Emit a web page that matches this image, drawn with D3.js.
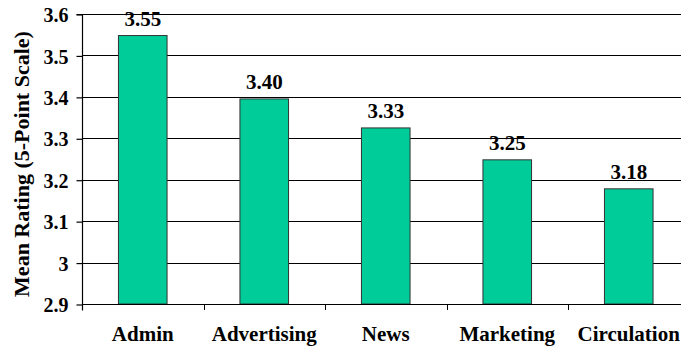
<!DOCTYPE html>
<html>
<head>
<meta charset="utf-8">
<script src="https://cdn.jsdelivr.net/npm/d3@7"></script>
<style>
  body { margin: 0; background: #fff; }
  svg text { font-family: "Liberation Serif", "Times New Roman", serif; font-weight: bold; fill: #000; }
</style>
</head>
<body>
<div id="chart"></div>
<script>
// departments and mean ratings
const departments = ['Admin', 'Advertising', 'News', 'Marketing', 'Circulation']
const ratings = [3.548, 3.395, 3.325, 3.248, 3.178]
const ratingLabels = ['3.55', '3.40', '3.33', '3.25', '3.18']
const yTicks = [2.9, 3, 3.1, 3.2, 3.3, 3.4, 3.5, 3.6]
const yTickLabels = ['2.9', '3', '3.1', '3.2', '3.3', '3.4', '3.5', '3.6']

window.addEventListener('load', () => {
  let width = 681, height = 347
  // plot area runs a bit past the right edge of the picture
  let left = 82, right = 689.5, top = 14, bottom = 304

  let svg = d3.select('#chart')
    .append('svg')
    .attr('width', width)
    .attr('height', height)
    .attr('xmlns', 'http://www.w3.org/2000/svg')

  let x = d3.scaleBand()
    .domain(departments)
    .range([left, right])
    .paddingInner(0.6)
    .paddingOuter(0.3)

  let y = d3.scaleLinear()
    .domain([2.9, 3.6])
    .range([bottom, top])

  // horizontal grid lines
  svg.append('g')
    .selectAll('line')
    .data(yTicks.slice(1))
    .join('line')
    .attr('x1', left)
    .attr('x2', right)
    .attr('y1', d => Math.round(y(d)) + 0.5)
    .attr('y2', d => Math.round(y(d)) + 0.5)
    .attr('stroke', '#000')
    .attr('stroke-width', 1.2)

  // bars
  svg.append('g')
    .selectAll('rect')
    .data(ratings)
    .join('rect')
    .attr('x', (d, i) => x(departments[i]))
    .attr('y', d => y(d))
    .attr('width', x.bandwidth())
    .attr('height', d => bottom - y(d))
    .attr('fill', '#00cc99')
    .attr('stroke', '#333')
    .attr('stroke-width', 1)

  // value labels
  svg.append('g')
    .selectAll('text')
    .data(ratings)
    .join('text')
    .attr('x', (d, i) => x(departments[i]) + x.bandwidth() / 2)
    .attr('y', d => y(d) - 10)
    .attr('text-anchor', 'middle')
    .style('font-size', '21px')
    .text((d, i) => ratingLabels[i])

  // y axis
  let yAxis = d3.axisLeft(y)
    .tickValues(yTicks)
    .tickFormat((d, i) => yTickLabels[i])
    .tickSize(6)
    .tickPadding(8)
  let gy = svg.append('g')
    .attr('transform', `translate(${left + 0.5},0.5)`)
    .call(yAxis)
  gy.select('.domain').attr('d', `M-6,${top}H0V${bottom + 6}`).attr('stroke', '#000').attr('stroke-width', 1.2)
  gy.selectAll('.tick line').attr('stroke-width', 1.2)
  gy.selectAll('.tick text')
    .style('font-size', '20px')
    .attr('dy', '0.36em')
    .style('font-family', '"Liberation Serif", serif')

  // x axis: ticks sit between categories
  let boundaries = departments.map(d => x(d) - x.step() * x.paddingInner() / 2)
  svg.append('line')
    .attr('x1', left).attr('x2', right)
    .attr('y1', bottom + 0.5).attr('y2', bottom + 0.5)
    .attr('stroke', '#000')
    .attr('stroke-width', 1.2)
  svg.append('g')
    .selectAll('line')
    .data(boundaries.slice(1))
    .join('line')
    .attr('x1', d => Math.round(d) + 0.5)
    .attr('x2', d => Math.round(d) + 0.5)
    .attr('y1', bottom)
    .attr('y2', bottom + 6)
    .attr('stroke', '#000')

  svg.append('g')
    .selectAll('text')
    .data(departments)
    .join('text')
    .attr('x', d => x(d) + x.bandwidth() / 2)
    .attr('y', 340.5)
    .attr('text-anchor', 'middle')
    .style('font-size', '21px')
    .text(d => d)

  // axis title
  svg.append('text')
    .attr('transform', `translate(29,${(top + bottom) / 2 + 5}) rotate(-90)`)
    .attr('text-anchor', 'middle')
    .style('font-size', '22px')
    .text('Mean Rating (5-Point Scale)')
})
</script>
</body>
</html>
